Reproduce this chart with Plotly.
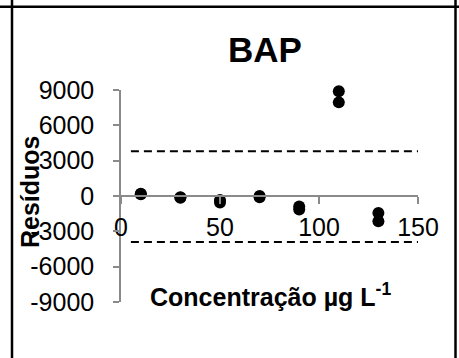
import plotly.graph_objects as go

# Residuals of the BAP calibration curve
conc = [10, 10, 30, 30, 50, 50, 70, 70, 90, 90, 110, 110, 130, 130]
resid = [200, 150, -100, -150, -350, -550, 0, -100, -900, -1150, 8900, 7950, -1450, -2150]

# Control limits (dashed lines)
limit_x = [5, 152]
upper_limit = 3800
lower_limit = -3900

y_ticks = [9000, 6000, 3000, 0, -3000, -6000, -9000]
y_tick_text = ["9000", "6000", "3000", "0", "-3000", "-6000", "-9000"]
x_ticks = [0, 50, 100, 150]
x_tick_text = ["0", "50", "100", "150"]

W, H = 459, 358
L, R, T, B = 121, 418, 90, 302  # plot area in pixels


def px_x(p):
    return (p - L) / (R - L)


def px_y(p):
    return (B - p) / (B - T)


fig = go.Figure()

for lim in (upper_limit, lower_limit):
    fig.add_trace(go.Scatter(
        x=limit_x, y=[lim, lim], mode="lines",
        line=dict(color="black", width=2, dash="8px,5px"),
        hoverinfo="skip", showlegend=False, cliponaxis=False,
    ))

fig.add_trace(go.Scatter(
    x=conc, y=resid, mode="markers",
    marker=dict(color="black", size=12),
    showlegend=False, cliponaxis=False,
))

axis_color = "#8a8a8a"
font = "Liberation Sans, Arial, sans-serif"

fig.update_layout(
    width=W, height=H,
    margin=dict(l=L, r=W - R, t=T, b=H - B),
    paper_bgcolor="white", plot_bgcolor="white",
    font=dict(family=font, color="black"),
    xaxis=dict(
        range=[0, 150], anchor="free", position=0.5,
        showline=True, linecolor=axis_color, linewidth=1.5,
        ticks="outside", ticklen=7, tickcolor=axis_color, tickwidth=1.5,
        tickvals=x_ticks, ticktext=x_tick_text,
        tickfont=dict(size=25, family=font, color="black"),
        ticklabelstandoff=2,
        showgrid=False, zeroline=False,
    ),
    yaxis=dict(
        range=[-9000, 9000],
        showline=True, linecolor=axis_color, linewidth=1.5,
        ticks="outside", ticklen=6, tickcolor=axis_color, tickwidth=1.5,
        tickvals=y_ticks, ticktext=y_tick_text,
        tickfont=dict(size=25, family=font, color="black"),
        ticklabelstandoff=14,
        showgrid=False, zeroline=False,
    ),
    annotations=[
        dict(text="<b>BAP</b>", x=px_x(265), y=px_y(49), xref="paper", yref="paper",
             showarrow=False, xanchor="center", yanchor="middle",
             font=dict(size=35, family=font, color="black")),
        dict(text="<b>Concentração µg L<sup>-1</sup></b>", x=px_x(270), y=px_y(295),
             xref="paper", yref="paper", showarrow=False,
             xanchor="center", yanchor="middle",
             font=dict(size=25, family=font, color="black")),
        dict(text="<b>Resíduos</b>", x=px_x(30), y=px_y(192), xref="paper", yref="paper",
             showarrow=False, xanchor="center", yanchor="middle", textangle=-90,
             font=dict(size=25, family=font, color="black")),
    ],
    shapes=[
        dict(type="line", xref="paper", yref="paper", x0=px_x(12), x1=px_x(12),
             y0=px_y(0), y1=px_y(H), line=dict(color="black", width=2.5)),
        dict(type="line", xref="paper", yref="paper", x0=px_x(455.5), x1=px_x(455.5),
             y0=px_y(0), y1=px_y(H), line=dict(color="black", width=2.5)),
        dict(type="line", xref="paper", yref="paper", x0=px_x(0), x1=px_x(W),
             y0=px_y(6.7), y1=px_y(6.7), line=dict(color="black", width=2.5)),
    ],
)

fig.write_html("out.html")
